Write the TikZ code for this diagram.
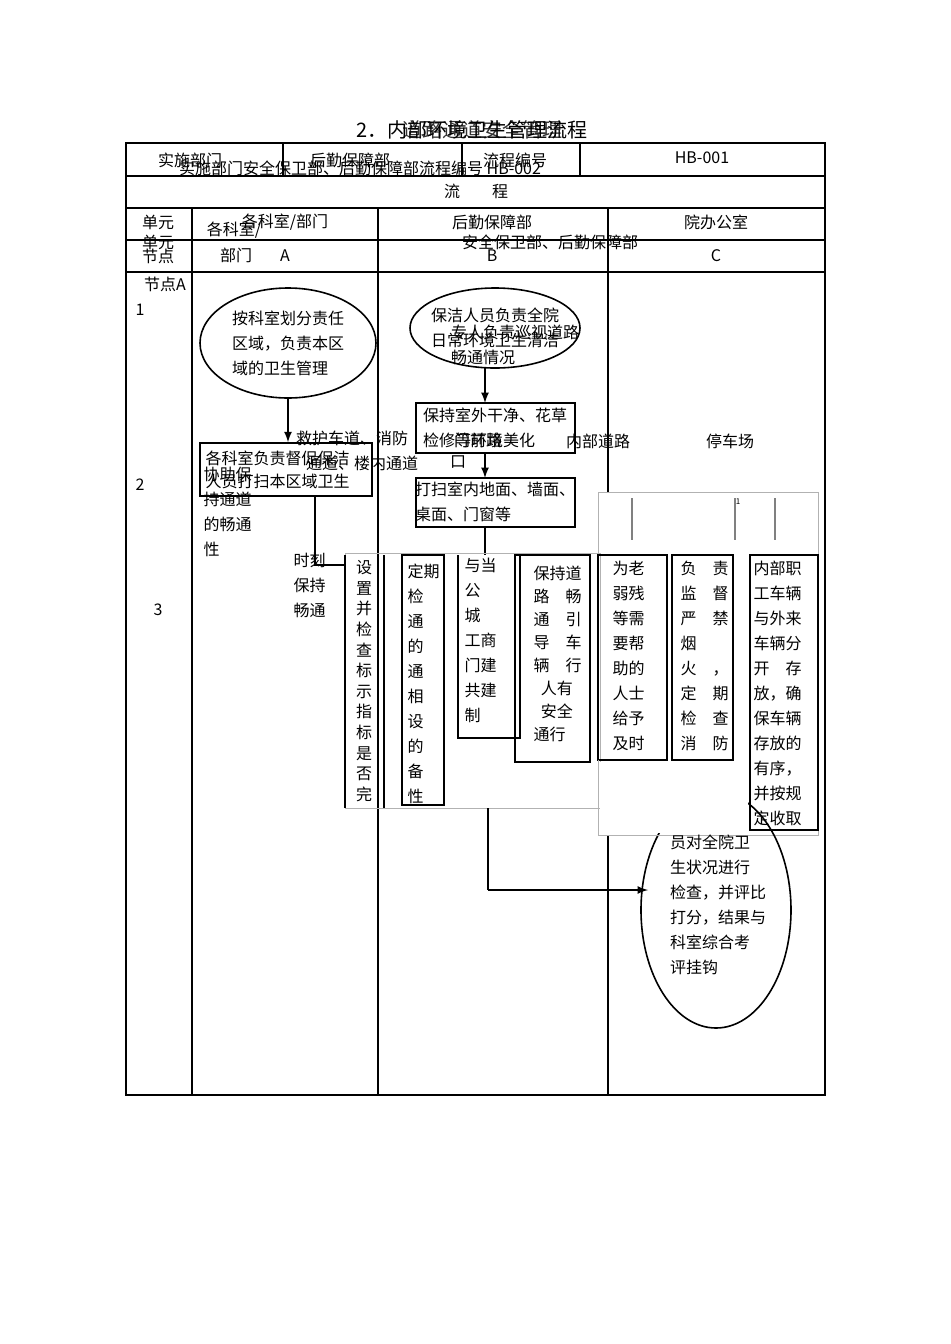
\documentclass[tikz,border=0pt]{standalone}
\usepackage{fontspec}
\setmainfont{Noto Sans CJK SC}
\begin{document}
\begin{tikzpicture}[x=0.5pt,y=-0.5pt,line width=0.6pt,
 t/.style={font=\fontsize{8}{12.5}\selectfont,inner sep=0pt,align=left},
 bx/.style={draw,line width=0.8pt},
 fb/.style={draw=black!30,line width=0.5pt},
 arr/.style={-latex,line width=0.8pt}]
\useasboundingbox (0,0) rectangle (950,1344);
% title
\node[t,font=\fontsize{10}{12}\selectfont] (title) at (472,130) {2．内部环境卫生管理流程};
\node[t,font=\fontsize{10}{12}\selectfont,opacity=0.8] (title2) at (482,130) {道路通道安全管理};
% table
\draw (126,143) rectangle (825,1095);
\foreach \y in {176,208,272} \draw (126,\y) -- (825,\y);
\draw (126,240) -- (825,240);
\foreach \x in {283,462,580} \draw (\x,143) -- (\x,176);
\draw (192,208) -- (192,1095);
\draw (378,208) -- (378,1095);
\draw (608,208) -- (608,492);
\draw (608,835) -- (608,1095);
\node[t] (h1) at (190,160) {实施部门};
\node[t] (h2) at (350,160) {后勤保障部};
\node[t] (h3) at (515,160) {流程编号};
\node[t] (h4) at (702,158) {HB-001};
\node[t] (h5) at (360,168) {实施部门安全保卫部、后勤保障部流程编号 HB-002};
\node[t] (flow) at (476,191) {流\quad\quad 程};
\node[t] (u1) at (158,222) {单元};
\node[t] (u2) at (158,242) {单元};
\node[t] (n1) at (158,256) {节点};
\node[t] (ca) at (285,222) {各科室/部门};
\node[t] (cb) at (234,230) {各科室/};
\node[t] (cc) at (236,255) {部门};
\node[t] (ka) at (285,256) {A};
\node[t] (kb1) at (492,222) {后勤保障部};
\node[t] (kb2) at (550,242) {安全保卫部、后勤保障部};
\node[t] (kb) at (492,256) {B};
\node[t] (kc1) at (716,222) {院办公室};
\node[t] (kc) at (716,256) {C};
\node[t] (na) at (165,284) {节点A};
\node[t] (r1) at (140,310) {1};
\node[t] (r2) at (140,485) {2};
\node[t] (r3) at (158,610) {3};
% column A
\draw[bx] (288,343) ellipse (88 and 55);
\node[t] (ea) at (288,343) {按科室划分责任\\区域，负责本区\\域的卫生管理};
\node[bx,minimum width=86pt,minimum height=26.5pt,inner sep=0pt] (a2) at (286,469.5) {};
\draw[arr] (288,398) -- (a2.north-|288,0);
\node[t,anchor=west] (a2t) at (205,458) {各科室负责督促保洁};
\node[t,anchor=west] (a2u) at (205,481) {人员打扫本区域卫生};
\node[t,anchor=north west] (at) at (203,466) {协助保\\持通道\\的畅通\\性};
\node[t,anchor=north west] (sk) at (293,552) {时刻\\保持\\畅通};
\draw (315,496) -- (315,565) -- (345,565);
% column B
\draw[bx] (495,328) ellipse (85 and 40);
\node[t] (eb) at (495,328) {保洁人员负责全院\\日常环境卫生清洁};
\node[t] (eb2) at (515,345) {专人负责巡视道路\\畅通情况};
\node[bx,minimum width=79.5pt,minimum height=25pt,inner sep=0pt] (b2) at (495.5,428) {};
\node[t] (b2t) at (495,428) {保持室外干净、花草\\检修等环境美化};
\node[bx,minimum width=79.5pt,minimum height=24.5pt,inner sep=0pt] (b3) at (495.5,502.5) {};
\node[t] (b3t) at (495,502) {打扫室内地面、墙面、\\桌面、门窗等};
\draw[arr] (485,368) -- (485,403);
\draw[arr] (485,453) -- (485,478);
\draw (485,527) -- (485,555);
\node[t] (x1) at (352,438) {救护车道、消防};
\node[t] (x2) at (362,463) {通道、楼内通道};
\node[t] (x3) at (478,440) {门前路};
\node[t] (x4) at (458,462) {口};
\node[t] (x5) at (598,441) {内部道路};
\node[t] (x6) at (730,441) {停车场};
% middle faint box
\draw[fb] (345,553) rectangle (600,808);
\draw (345,555) -- (345,808) (384,555) -- (384,808);
\node[t,anchor=north,font=\fontsize{8}{10.3}\selectfont] (s1) at (364,560) {设\\置\\并\\检\\查\\标\\示\\指\\标\\是\\否\\完};
\draw (402,555) rectangle (444,805);
\node[t,anchor=north west] (s2) at (407,563) {定期\\检\\通\\的\\通\\相\\设\\的\\备\\性};
\draw (458,555) -- (458,738) -- (520,738) -- (520,555);
\node[t,anchor=north west] (s3) at (464,557) {与当\\公\\城\\工商\\门建\\共建\\制};
\draw (515,555) rectangle (590,762);
\node[t,anchor=north west,font=\fontsize{8}{11.5}\selectfont] (s4) at (533,565) {保持道\\路\quad 畅\\通\quad 引\\导\quad 车\\辆\quad 行\\\ \ 人有\\\ \ 安全\\通行};
\draw (488,808) -- (488,890);
% right faint box
\draw[fb] (598,492) rectangle (818,835);
\foreach \x in {632,735,775} \draw[black!50] (\x,498) -- (\x,540);
\node[t,font=\fontsize{4}{5}\selectfont] (one) at (738,502) {1};
\draw (598,555) rectangle (667,760);
\node[t,anchor=north west] (c1) at (612,560) {为老\\弱残\\等需\\要帮\\助的\\人士\\给予\\及时};
\draw (672,555) rectangle (733,760);
\node[t,anchor=north west] (c2) at (680,560) {负\quad 责\\监\quad 督\\严\quad 禁\\烟\\火\quad ，\\定\quad 期\\检\quad 查\\消\quad 防};
\draw (750,555) rectangle (818,830);
\node[t,anchor=north west] (c3) at (753,560) {内部职\\工车辆\\与外来\\车辆分\\开\quad 存\\放，确\\保车辆\\存放的\\有序，\\并按规\\定收取};
% bottom ellipse
\draw[bx] (716,910) ellipse (75 and 118);
\fill[white] (600,762) rectangle (748,833);
\draw[fb] (598,760) -- (598,835) -- (750,835);
\node[t] (ec) at (718,905) {员对全院卫\\生状况进行\\检查，并评比\\打分，结果与\\科室综合考\\评挂钩};
\draw[arr] (488,890) -- (648,890);
\end{tikzpicture}
\end{document}
